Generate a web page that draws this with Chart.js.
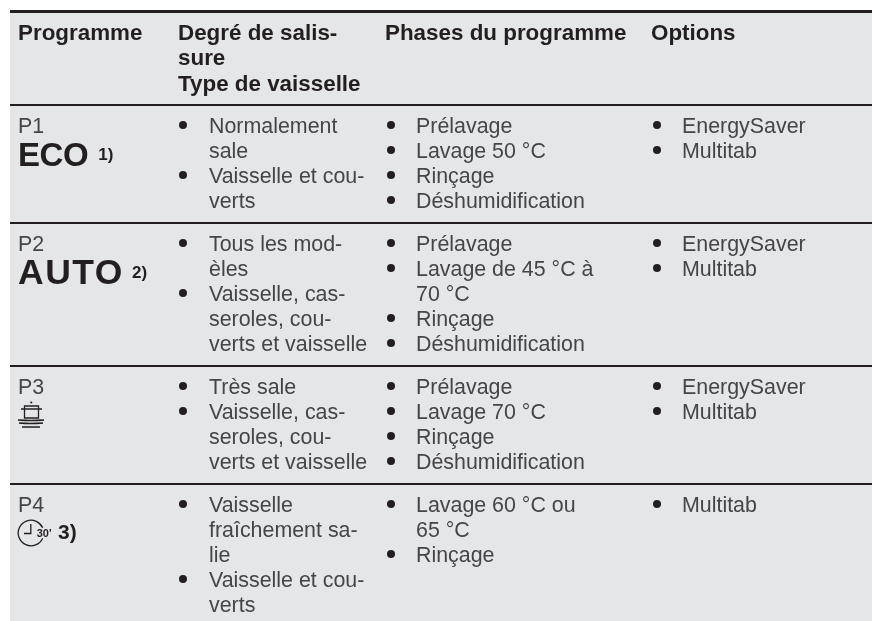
<!DOCTYPE html>
<html>
<head>
    <meta charset="utf-8">
    <title>Programmes</title>
    <script src="https://cdn.jsdelivr.net/npm/chart.js"></script>
    <style>
        html, body { margin: 0; padding: 0; background: #fff; }
        canvas { display: block; }
    </style>
</head>
<body>
    <canvas id="myChart" width="872" height="621"></canvas>
    <script>
        // Table content
        const headers = [
            ['Programme'],
            ['Degré de salis-', 'sure', 'Type de vaisselle'],
            ['Phases du programme'],
            ['Options']
        ];
        const programmes = ['P1', 'P2', 'P3', 'P4'];
        const badges = ['ECO', 'AUTO', '', ''];
        const notes = ['1)', '2)', '', '3)'];
        const soil = [
            [['Normalement', 'sale'], ['Vaisselle et cou-', 'verts']],
            [['Tous les mod-', 'èles'], ['Vaisselle, cas-', 'seroles, cou-', 'verts et vaisselle']],
            [['Très sale'], ['Vaisselle, cas-', 'seroles, cou-', 'verts et vaisselle']],
            [['Vaisselle', 'fraîchement sa-', 'lie'], ['Vaisselle et cou-', 'verts']]
        ];
        const phases = [
            [['Prélavage'], ['Lavage 50 °C'], ['Rinçage'], ['Déshumidification']],
            [['Prélavage'], ['Lavage de 45 °C à', '70 °C'], ['Rinçage'], ['Déshumidification']],
            [['Prélavage'], ['Lavage 70 °C'], ['Rinçage'], ['Déshumidification']],
            [['Lavage 60 °C ou', '65 °C'], ['Rinçage']]
        ];
        const options = [
            [['EnergySaver'], ['Multitab']],
            [['EnergySaver'], ['Multitab']],
            [['EnergySaver'], ['Multitab']],
            [['Multitab']]
        ];

        // Layout: x scale runs in canvas pixels, y scale in text lines
        const lineHeight = 25;
        const pageLines = 621 / lineHeight;
        const tableLeft = 10;
        const tableTop = 0.46;
        const rowPad = 0.72;
        const firstLine = 0.82;
        const colText = [18, 178, 385, 651];
        const colBullet = [0, 183, 391, 657];
        const colIndent = [0, 209, 416, 682];
        const lightFont = '21.4px "Liberation Sans"';
        const boldFont = 'bold 22.4px "Liberation Sans"';
        const noteFont = 'bold 17px "Liberation Sans"';
        const ink = '#454547';
        const dark = '#231f20';

        // Count the lines of a bullet list
        const countLines = cell => cell.reduce((n, item) => n + item.length, 0);

        // Rule positions come from the tallest cell of every row
        const rules = [tableTop, tableTop + Math.max(...headers.map(h => h.length)) + rowPad];
        programmes.forEach((p, r) => {
            const tallest = Math.max(countLines(soil[r]), countLines(phases[r]), countLines(options[r]));
            rules.push(rules[rules.length - 1] + tallest + rowPad);
        });
        const rowTops = rules.slice(1, 1 + programmes.length);

        const headerPoints = [];
        headers.forEach((lines, c) => lines.forEach((text, k) => {
            headerPoints.push({ x: colText[c], y: tableTop + firstLine + k * 1.01, text });
        }));

        const textPoints = [];
        const bulletPoints = [];
        programmes.forEach((p, r) => {
            textPoints.push({ x: colText[0], y: rowTops[r] + firstLine, text: p });
            [soil[r], phases[r], options[r]].forEach((cell, i) => {
                let k = 0;
                cell.forEach(item => {
                    bulletPoints.push({ x: colBullet[i + 1], y: rowTops[r] + firstLine + k });
                    item.forEach(text => {
                        textPoints.push({ x: colIndent[i + 1], y: rowTops[r] + firstLine + k, text });
                        k++;
                    });
                });
            });
        });

        // Gray table background
        const tableBackground = {
            id: 'tableBackground',
            beforeDraw(chart) {
                const { ctx, chartArea, scales } = chart;
                const top = scales.y.getPixelForValue(tableTop);
                ctx.save();
                ctx.fillStyle = '#e5e6e8';
                ctx.fillRect(chartArea.left, top, chartArea.right - chartArea.left, chartArea.bottom - top);
                ctx.restore();
            }
        };

        function drawPot(ctx, x, y) {
            ctx.strokeStyle = dark;
            ctx.lineWidth = 1.3;
            ctx.beginPath();
            ctx.moveTo(x + 6.5, y - 8);
            ctx.lineTo(x + 20.5, y - 8);
            ctx.lineTo(x + 20.5, y + 4);
            ctx.lineTo(x + 6.5, y + 4);
            ctx.closePath();
            ctx.moveTo(x + 3, y - 5);
            ctx.lineTo(x + 24, y - 5);
            ctx.moveTo(x, y + 6);
            ctx.quadraticCurveTo(x + 13, y + 7, x + 26, y + 6);
            ctx.moveTo(x + 1, y + 9);
            ctx.quadraticCurveTo(x + 13, y + 10, x + 25, y + 9);
            ctx.moveTo(x + 4, y + 13);
            ctx.lineTo(x + 22, y + 13);
            ctx.stroke();
            ctx.fillStyle = dark;
            ctx.beginPath();
            ctx.arc(x + 13.3, y - 11.5, 1.1, 0, Math.PI * 2);
            ctx.fill();
        }

        function drawClock(ctx, x, y) {
            ctx.strokeStyle = dark;
            ctx.lineWidth = 1.3;
            ctx.beginPath();
            ctx.arc(x + 13, y, 12.8, 0.42, Math.PI * 2 - 0.42);
            ctx.stroke();
            ctx.beginPath();
            ctx.moveTo(x + 12.8, y - 9);
            ctx.lineTo(x + 12.8, y + 0.5);
            ctx.lineTo(x + 6, y + 0.5);
            ctx.stroke();
            ctx.fillStyle = dark;
            ctx.font = 'bold 11px "Liberation Sans"';
            ctx.fillText('30\'', x + 18.7, y + 3.7);
        }

        // Table text, placed on the points the scales computed
        const tableText = {
            id: 'tableText',
            afterDatasetsDraw(chart) {
                const { ctx, scales } = chart;
                ctx.save();
                ctx.textBaseline = 'alphabetic';
                ctx.textAlign = 'left';
                chart.data.datasets.forEach((set, d) => {
                    if (!set.drawText) return;
                    ctx.font = set.font;
                    ctx.fillStyle = set.textColor;
                    chart.getDatasetMeta(d).data.forEach((pt, i) => {
                        ctx.fillText(set.data[i].text, pt.x, pt.y + 8);
                    });
                });

                // Second line of the first column holds the programme badge
                programmes.forEach((p, r) => {
                    const y = scales.y.getPixelForValue(rowTops[r] + firstLine + 1);
                    const x = colText[0];
                    ctx.fillStyle = dark;
                    if (badges[r]) {
                        ctx.font = r === 1 ? 'bold 35.5px "Liberation Sans"' : 'bold 33px "Liberation Sans"';
                        ctx.letterSpacing = r === 1 ? '1.5px' : '-0.4px';
                        ctx.fillText(badges[r], x, y + 16);
                        const w = ctx.measureText(badges[r]).width;
                        ctx.letterSpacing = '0px';
                        ctx.font = noteFont;
                        ctx.fillText(notes[r], x + w + (r === 1 ? 8 : 10), y + 9.5);
                    } else if (r === 2) {
                        drawPot(ctx, x, y + 3);
                    } else {
                        drawClock(ctx, x, y + 4);
                        ctx.font = 'bold 21px "Liberation Sans"';
                        ctx.fillStyle = dark;
                        ctx.fillText(notes[r], x + 40, y + 10);
                    }
                });
                ctx.restore();
            }
        };

        const ctx = document.getElementById('myChart').getContext('2d');
        new Chart(ctx, {
            type: 'scatter',
            data: {
                datasets: [
                    { label: 'En-têtes', data: headerPoints, pointRadius: 0, drawText: true, font: boldFont, textColor: dark },
                    { label: 'Texte', data: textPoints, pointRadius: 0, drawText: true, font: lightFont, textColor: ink },
                    { label: 'Puces', data: bulletPoints, pointRadius: 4, pointBorderWidth: 0, pointBackgroundColor: dark, pointStyle: 'circle' }
                ]
            },
            options: {
                responsive: false,
                animation: false,
                layout: { autoPadding: false, padding: { left: tableLeft, top: 0, right: 0, bottom: 0 } },
                plugins: { legend: { display: false }, tooltip: { enabled: false } },
                scales: {
                    x: { type: 'linear', min: tableLeft, max: 872, display: false },
                    y: {
                        type: 'linear',
                        reverse: true,
                        min: 0,
                        max: pageLines,
                        afterBuildTicks: axis => { axis.ticks = rules.map(value => ({ value })); },
                        ticks: { display: false },
                        border: { display: false },
                        grid: {
                            drawTicks: false,
                            color: dark,
                            lineWidth: c => (c.tick && c.tick.value === tableTop ? 3 : 2)
                        }
                    }
                }
            },
            plugins: [tableBackground, tableText]
        });
    </script>
</body>
</html>
